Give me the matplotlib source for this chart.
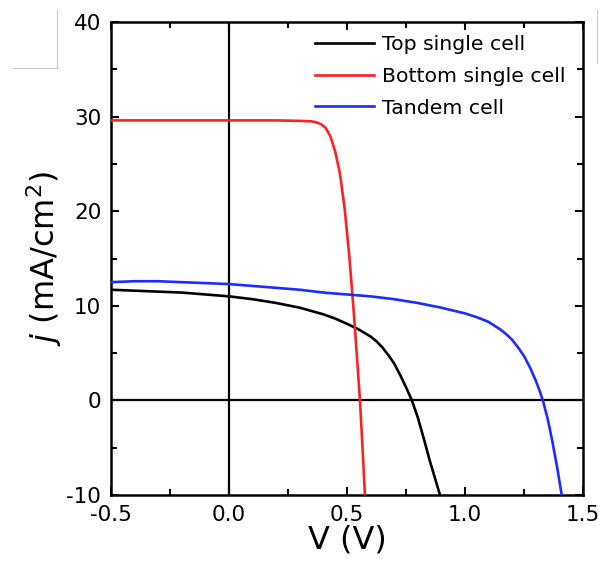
import matplotlib
matplotlib.use("Agg")
import matplotlib.pyplot as plt
from matplotlib.lines import Line2D
from matplotlib.ticker import MultipleLocator

plt.rcParams["axes.unicode_minus"] = False

# J-V curves
top_v = [-0.5, -0.4, -0.3, -0.2, -0.1, 0.0, 0.1, 0.2, 0.3, 0.4, 0.45, 0.5,
         0.55, 0.6, 0.625, 0.65, 0.675, 0.7, 0.725, 0.75, 0.775, 0.8, 0.825,
         0.85, 0.875, 0.894]
top_j = [11.7, 11.6, 11.5, 11.4, 11.2, 11.0, 10.7, 10.3, 9.8, 9.1, 8.65, 8.1,
         7.5, 6.75, 6.25, 5.6, 4.8, 3.9, 2.7, 1.4, 0.0, -1.8, -4.0,
         -6.3, -8.4, -10.0]

bot_v = [-0.5, -0.2, 0.0, 0.2, 0.3, 0.35, 0.37, 0.39, 0.41, 0.43, 0.45, 0.47,
         0.49, 0.51, 0.53, 0.545, 0.555, 0.565, 0.576]
bot_j = [29.6, 29.6, 29.6, 29.6, 29.55, 29.5, 29.4, 29.2, 28.8, 27.9, 26.3, 24.0,
         20.3, 15.2, 8.9, 3.6, 0.0, -4.6, -10.0]

tan_v = [-0.5, -0.4, -0.3, -0.2, -0.1, 0.0, 0.1, 0.2, 0.3, 0.4, 0.5, 0.6, 0.7,
         0.8, 0.9, 0.95, 1.0, 1.05, 1.1, 1.125, 1.15, 1.175, 1.2, 1.225, 1.25,
         1.275, 1.3, 1.315, 1.33, 1.35, 1.37, 1.39, 1.41]
tan_j = [12.5, 12.6, 12.6, 12.5, 12.4, 12.3, 12.1, 11.9, 11.7, 11.4, 11.2, 11.0,
         10.7, 10.3, 9.8, 9.5, 9.2, 8.8, 8.3, 7.9, 7.5, 7.0, 6.4, 5.6, 4.7,
         3.5, 2.1, 1.1, 0.0, -1.9, -4.3, -7.0, -10.0]

series = [
    ("Top single cell", top_v, top_j, "black"),
    ("Bottom single cell", bot_v, bot_j, "#ff2020"),
    ("Tandem cell", tan_v, tan_j, "#1a2cff"),
]

fig = plt.figure(figsize=(6.02, 5.75), dpi=100)
ax = fig.add_axes([0.1844, 0.1391, 0.784, 0.8226])

ax.axhline(0, color="black", lw=1.6, zorder=1)
ax.axvline(0, color="black", lw=1.6, zorder=1)
for label, v, j, c in series:
    ax.plot(v, j, color=c, lw=1.9, label=label, zorder=3)

ax.set_xlim(-0.5, 1.5)
ax.set_ylim(-10, 40)
ax.xaxis.set_major_locator(MultipleLocator(0.5))
ax.xaxis.set_minor_locator(MultipleLocator(0.25))
ax.yaxis.set_major_locator(MultipleLocator(10))
ax.yaxis.set_minor_locator(MultipleLocator(5))
ax.tick_params(which="both", direction="in", top=True, right=True,
               width=1.5, labelsize=15.5)
ax.tick_params(which="major", length=6, pad=7)
ax.tick_params(which="minor", length=4)
ax.xaxis.set_major_formatter(plt.FuncFormatter(lambda x, _: f"{x:.1f}"))
for s in ax.spines.values():
    s.set_linewidth(1.8)

ax.set_xlabel("V (V)", fontsize=23, labelpad=0)
ax.set_ylabel(r"$j$ (mA/cm$^2$)", fontsize=23, labelpad=2)

ax.legend(loc="upper left", bbox_to_anchor=(0.432, 0.972), frameon=False,
          fontsize=14.7, handlelength=2.9, handletextpad=0.4, labelspacing=0.62,
          borderaxespad=0, borderpad=0)

# faint screenshot frame edges seen in the reference
fig.add_artist(Line2D([57 / 602, 57 / 602], [1 - 10 / 575, 1 - 68 / 575],
                      color="#c8c8c8", lw=0.8))
fig.add_artist(Line2D([13 / 602, 57 / 602], [1 - 68 / 575, 1 - 68 / 575],
                      color="#c8c8c8", lw=0.8))
fig.add_artist(Line2D([597 / 602, 597 / 602], [1 - 10 / 575, 1 - 63 / 575],
                      color="#c8c8c8", lw=0.8))

fig.savefig("out.png", dpi=100)
